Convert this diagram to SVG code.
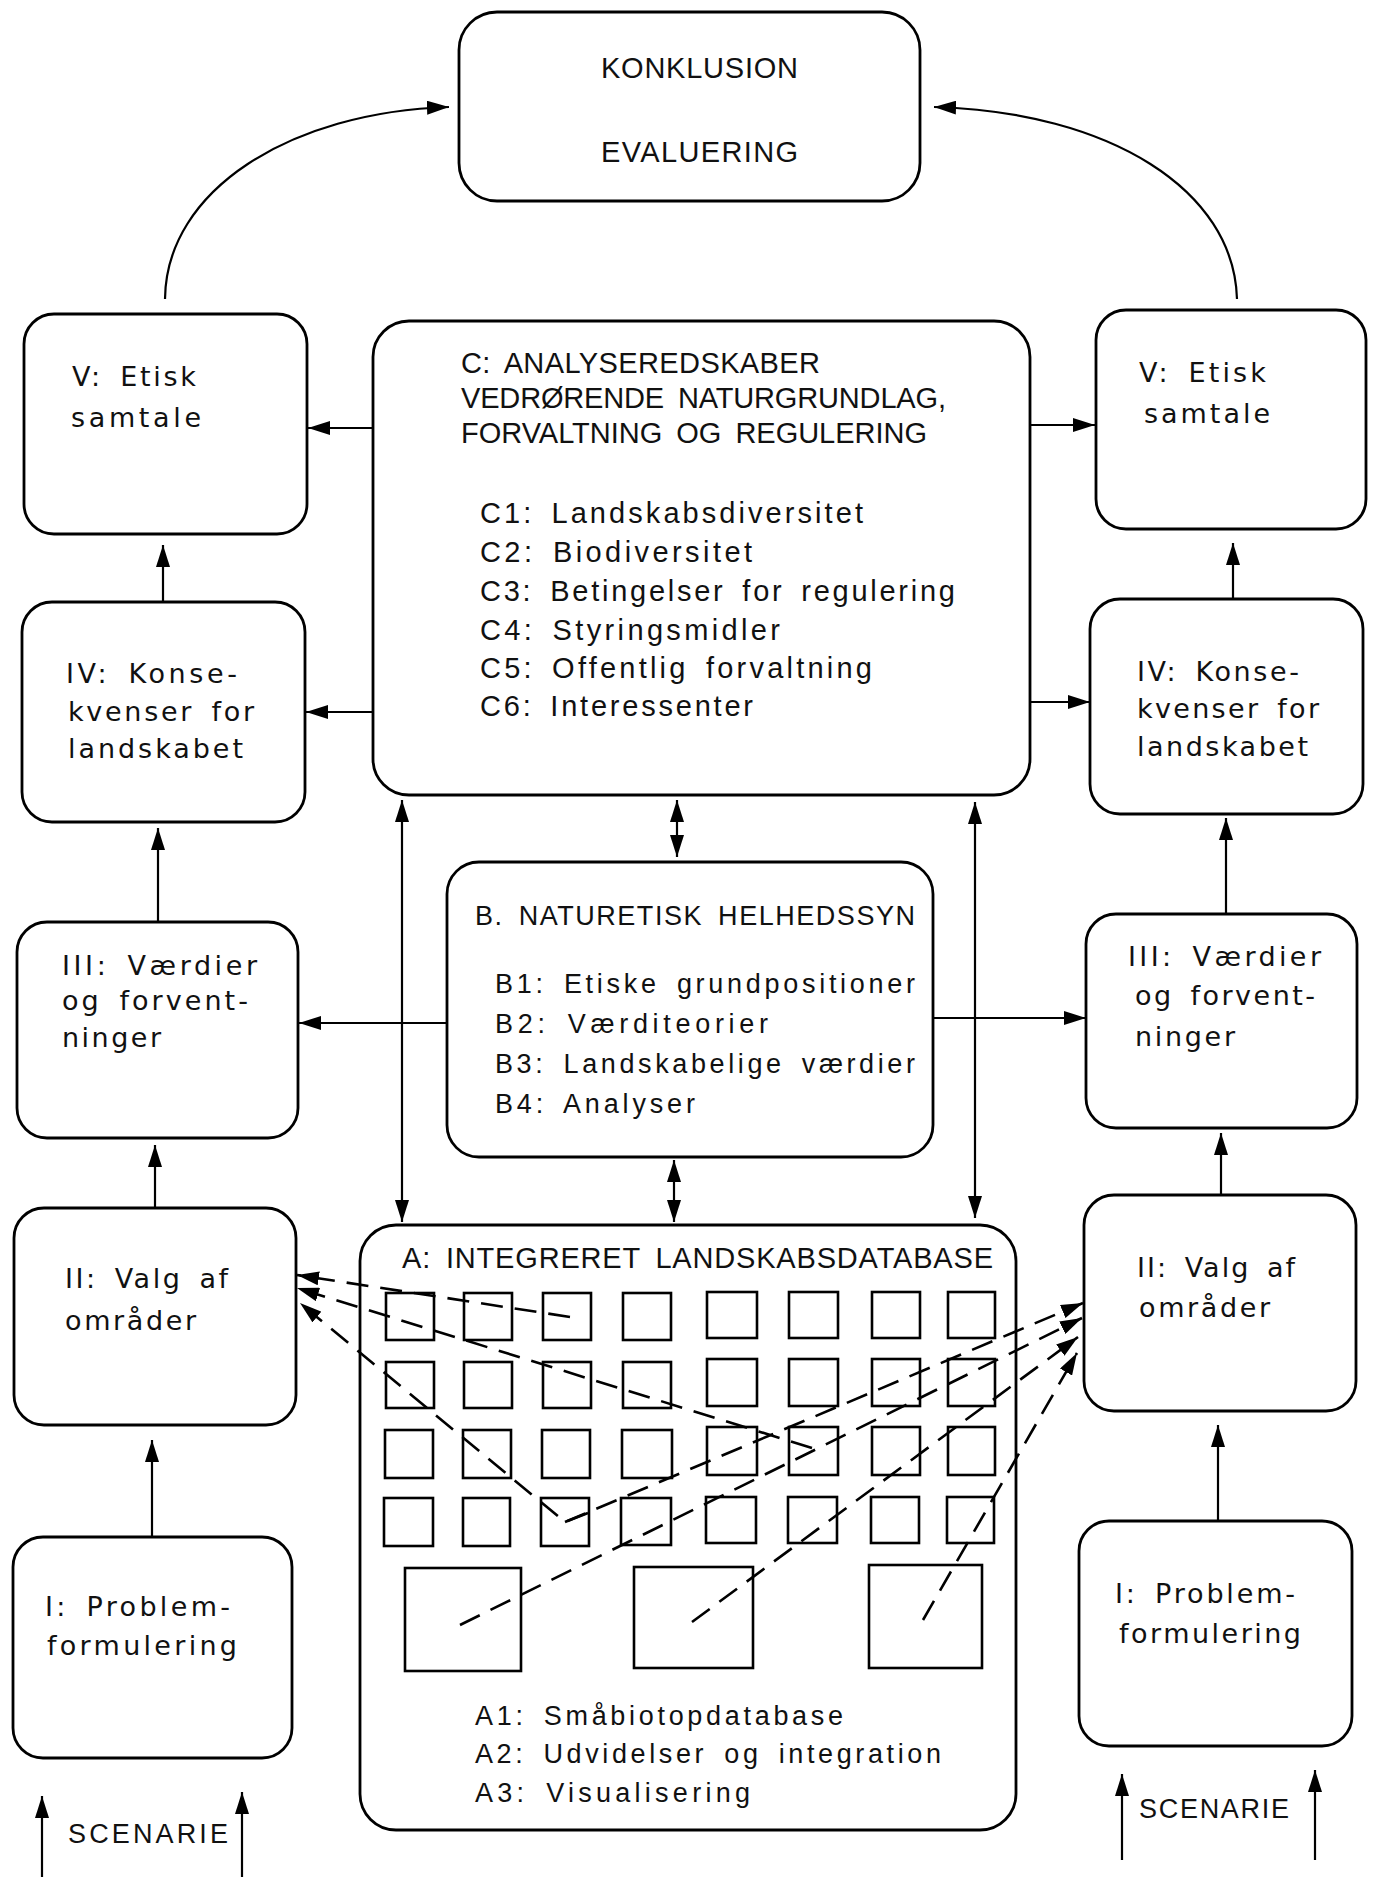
<svg xmlns="http://www.w3.org/2000/svg" width="1376" height="1877" viewBox="0 0 1376 1877">
<style>
.box{fill:none;stroke:#000;stroke-width:2.8}
.sq{fill:none;stroke:#000;stroke-width:2.6}
.ln{fill:none;stroke:#000;stroke-width:2.2}
.dash{fill:none;stroke:#000;stroke-width:2.6;stroke-dasharray:22 12}
.s{font-family:"DejaVu Sans","Liberation Sans",sans-serif;font-size:27px;fill:#111;word-spacing:6px}
.c{font-family:"Liberation Sans",Arial,sans-serif;font-size:29px;fill:#111;word-spacing:6px}
.b{font-family:"Liberation Sans",Arial,sans-serif;font-size:27px;fill:#111;word-spacing:6px}
</style>
<defs>
<marker id="ah" markerUnits="userSpaceOnUse" markerWidth="24" markerHeight="14" refX="22" refY="7" orient="auto-start-reverse">
<path d="M0,0 L22,7 L0,14 z" fill="#000"/>
</marker>
</defs>
<rect width="1376" height="1877" fill="#fff"/>

<g id="konklusion">
<rect class="box" x="459" y="12" width="461" height="189" rx="38"/>
<text class="c" x="601" y="78" textLength="197" lengthAdjust="spacing">KONKLUSION</text>
<text class="c" x="601" y="162" textLength="197" lengthAdjust="spacing">EVALUERING</text>
</g>

<g id="C">
<rect class="box" x="373" y="321" width="657" height="474" rx="36"/>
<text class="c" x="461" y="373" textLength="359" lengthAdjust="spacing">C: ANALYSEREDSKABER</text>
<text class="c" x="461" y="408" textLength="485" lengthAdjust="spacing">VEDRØRENDE NATURGRUNDLAG,</text>
<text class="c" x="461" y="443" textLength="466" lengthAdjust="spacing">FORVALTNING OG REGULERING</text>
<text class="c" x="480" y="523" textLength="383" lengthAdjust="spacing">C1: Landskabsdiversitet</text>
<text class="c" x="480" y="562" textLength="272" lengthAdjust="spacing">C2: Biodiversitet</text>
<text class="c" x="480" y="601" textLength="475" lengthAdjust="spacing">C3: Betingelser for regulering</text>
<text class="c" x="480" y="640" textLength="300" lengthAdjust="spacing">C4: Styringsmidler</text>
<text class="c" x="480" y="678" textLength="392" lengthAdjust="spacing">C5: Offentlig forvaltning</text>
<text class="c" x="480" y="716" textLength="273" lengthAdjust="spacing">C6: Interessenter</text>
</g>

<g id="B">
<rect class="box" x="447" y="862" width="486" height="295" rx="32"/>
<text class="b" x="475" y="925" textLength="440" lengthAdjust="spacing">B. NATURETISK HELHEDSSYN</text>
<text class="b" x="495" y="993" textLength="420" lengthAdjust="spacing">B1: Etiske grundpositioner</text>
<text class="b" x="495" y="1033" textLength="273" lengthAdjust="spacing">B2: Værditeorier</text>
<text class="b" x="495" y="1073" textLength="420" lengthAdjust="spacing">B3: Landskabelige værdier</text>
<text class="b" x="495" y="1113" textLength="200" lengthAdjust="spacing">B4: Analyser</text>
</g>

<g id="A">
<rect class="box" x="360" y="1225" width="656" height="605" rx="36"/>
<text class="c" x="402" y="1268" textLength="591" lengthAdjust="spacing">A: INTEGRERET LANDSKABSDATABASE</text>
<g id="A-grid">
<rect class="sq" x="386" y="1293" width="48" height="47"/>
<rect class="sq" x="464" y="1293" width="48" height="47"/>
<rect class="sq" x="543" y="1293" width="48" height="47"/>
<rect class="sq" x="623" y="1293" width="48" height="47"/>
<rect class="sq" x="707" y="1292" width="50" height="46"/>
<rect class="sq" x="789" y="1292" width="49" height="46"/>
<rect class="sq" x="872" y="1292" width="48" height="46"/>
<rect class="sq" x="948" y="1292" width="47" height="46"/>
<rect class="sq" x="386" y="1362" width="48" height="46"/>
<rect class="sq" x="464" y="1362" width="48" height="46"/>
<rect class="sq" x="543" y="1362" width="48" height="46"/>
<rect class="sq" x="623" y="1362" width="48" height="46"/>
<rect class="sq" x="707" y="1359" width="50" height="47"/>
<rect class="sq" x="789" y="1359" width="49" height="47"/>
<rect class="sq" x="872" y="1359" width="48" height="47"/>
<rect class="sq" x="948" y="1359" width="47" height="47"/>
<rect class="sq" x="385" y="1430" width="48" height="48"/>
<rect class="sq" x="463" y="1430" width="48" height="48"/>
<rect class="sq" x="542" y="1430" width="48" height="48"/>
<rect class="sq" x="622" y="1430" width="50" height="48"/>
<rect class="sq" x="707" y="1427" width="50" height="48"/>
<rect class="sq" x="789" y="1427" width="49" height="48"/>
<rect class="sq" x="872" y="1427" width="48" height="48"/>
<rect class="sq" x="948" y="1427" width="47" height="48"/>
<rect class="sq" x="384" y="1498" width="49" height="48"/>
<rect class="sq" x="463" y="1498" width="47" height="48"/>
<rect class="sq" x="541" y="1498" width="48" height="48"/>
<rect class="sq" x="621" y="1498" width="50" height="47"/>
<rect class="sq" x="706" y="1497" width="50" height="46"/>
<rect class="sq" x="788" y="1497" width="49" height="46"/>
<rect class="sq" x="871" y="1497" width="48" height="46"/>
<rect class="sq" x="947" y="1497" width="47" height="46"/>
<rect class="sq" x="405" y="1568" width="116" height="103"/>
<rect class="sq" x="634" y="1567" width="119" height="101"/>
<rect class="sq" x="869" y="1565" width="113" height="103"/>
</g>
<text class="b" x="475" y="1725" textLength="368" lengthAdjust="spacing">A1: Småbiotopdatabase</text>
<text class="b" x="475" y="1763" textLength="466" lengthAdjust="spacing">A2: Udvidelser og integration</text>
<text class="b" x="475" y="1802" textLength="275" lengthAdjust="spacing">A3: Visualisering</text>
</g>

<g id="L5">
<rect class="box" x="24" y="314" width="283" height="220" rx="30"/>
<text class="s" x="72" y="386" textLength="124" lengthAdjust="spacing">V: Etisk</text>
<text class="s" x="71" y="427" textLength="130" lengthAdjust="spacing">samtale</text>
</g>
<g id="L4">
<rect class="box" x="22" y="602" width="283" height="220" rx="30"/>
<text class="s" x="66" y="683" textLength="171" lengthAdjust="spacing">IV: Konse-</text>
<text class="s" x="68" y="721" textLength="186" lengthAdjust="spacing">kvenser for</text>
<text class="s" x="68" y="758" textLength="175" lengthAdjust="spacing">landskabet</text>
</g>
<g id="L3">
<rect class="box" x="17" y="922" width="281" height="216" rx="30"/>
<text class="s" x="62" y="975" textLength="195" lengthAdjust="spacing">III: Værdier</text>
<text class="s" x="62" y="1010" textLength="186" lengthAdjust="spacing">og forvent-</text>
<text class="s" x="62" y="1047" textLength="99" lengthAdjust="spacing">ninger</text>
</g>
<g id="L2">
<rect class="box" x="14" y="1208" width="282" height="217" rx="30"/>
<text class="s" x="65" y="1288" textLength="163" lengthAdjust="spacing">II: Valg af</text>
<text class="s" x="65" y="1330" textLength="131" lengthAdjust="spacing">områder</text>
</g>
<g id="L1">
<rect class="box" x="13" y="1537" width="279" height="221" rx="30"/>
<text class="s" x="45" y="1616" textLength="185" lengthAdjust="spacing">I: Problem-</text>
<text class="s" x="47" y="1655" textLength="190" lengthAdjust="spacing">formulering</text>
</g>

<g id="R5">
<rect class="box" x="1096" y="310" width="270" height="219" rx="30"/>
<text class="s" x="1139" y="382" textLength="127" lengthAdjust="spacing">V: Etisk</text>
<text class="s" x="1144" y="423" textLength="126" lengthAdjust="spacing">samtale</text>
</g>
<g id="R4">
<rect class="box" x="1090" y="599" width="273" height="215" rx="30"/>
<text class="s" x="1137" y="681" textLength="162" lengthAdjust="spacing">IV: Konse-</text>
<text class="s" x="1137" y="718" textLength="182" lengthAdjust="spacing">kvenser for</text>
<text class="s" x="1137" y="756" textLength="171" lengthAdjust="spacing">landskabet</text>
</g>
<g id="R3">
<rect class="box" x="1086" y="914" width="271" height="214" rx="30"/>
<text class="s" x="1128" y="966" textLength="193" lengthAdjust="spacing">III: Værdier</text>
<text class="s" x="1135" y="1005" textLength="180" lengthAdjust="spacing">og forvent-</text>
<text class="s" x="1135" y="1046" textLength="100" lengthAdjust="spacing">ninger</text>
</g>
<g id="R2">
<rect class="box" x="1084" y="1195" width="272" height="216" rx="30"/>
<text class="s" x="1137" y="1277" textLength="158" lengthAdjust="spacing">II: Valg af</text>
<text class="s" x="1139" y="1317" textLength="131" lengthAdjust="spacing">områder</text>
</g>
<g id="R1">
<rect class="box" x="1079" y="1521" width="273" height="225" rx="30"/>
<text class="s" x="1115" y="1603" textLength="180" lengthAdjust="spacing">I: Problem-</text>
<text class="s" x="1119" y="1643" textLength="182" lengthAdjust="spacing">formulering</text>
</g>

<g id="scenarie-left">
<text class="b" x="68" y="1843" textLength="160" lengthAdjust="spacing">SCENARIE</text>
</g>
<g id="scenarie-right">
<text class="b" x="1139" y="1818" textLength="150" lengthAdjust="spacing">SCENARIE</text>
</g>

<g id="connectors">
<path class="ln" d="M165,299 C166,190 290,112 449,107" marker-end="url(#ah)"/>
<path class="ln" d="M1237,299 C1234,190 1110,112 934,107" marker-end="url(#ah)"/>
<line class="ln" x1="373" y1="428" x2="308" y2="428" marker-end="url(#ah)"/>
<line class="ln" x1="373" y1="712" x2="306" y2="712" marker-end="url(#ah)"/>
<line class="ln" x1="1030" y1="425" x2="1095" y2="425" marker-end="url(#ah)"/>
<line class="ln" x1="1030" y1="702" x2="1090" y2="702" marker-end="url(#ah)"/>
<line class="ln" x1="447" y1="1023" x2="299" y2="1023" marker-end="url(#ah)"/>
<line class="ln" x1="933" y1="1018" x2="1086" y2="1018" marker-end="url(#ah)"/>
<line class="ln" x1="163" y1="602" x2="163" y2="545" marker-end="url(#ah)"/>
<line class="ln" x1="158" y1="922" x2="158" y2="828" marker-end="url(#ah)"/>
<line class="ln" x1="155" y1="1208" x2="155" y2="1145" marker-end="url(#ah)"/>
<line class="ln" x1="152" y1="1537" x2="152" y2="1440" marker-end="url(#ah)"/>
<line class="ln" x1="1233" y1="599" x2="1233" y2="543" marker-end="url(#ah)"/>
<line class="ln" x1="1226" y1="914" x2="1226" y2="818" marker-end="url(#ah)"/>
<line class="ln" x1="1221" y1="1195" x2="1221" y2="1133" marker-end="url(#ah)"/>
<line class="ln" x1="1218" y1="1521" x2="1218" y2="1425" marker-end="url(#ah)"/>
<line class="ln" x1="402" y1="800" x2="402" y2="1222" marker-start="url(#ah)" marker-end="url(#ah)"/>
<line class="ln" x1="975" y1="802" x2="975" y2="1218" marker-start="url(#ah)" marker-end="url(#ah)"/>
<line class="ln" x1="677" y1="800" x2="677" y2="857" marker-start="url(#ah)" marker-end="url(#ah)"/>
<line class="ln" x1="674" y1="1160" x2="674" y2="1222" marker-start="url(#ah)" marker-end="url(#ah)"/>
<line class="ln" x1="42" y1="1877" x2="42" y2="1796" marker-end="url(#ah)"/>
<line class="ln" x1="242" y1="1877" x2="242" y2="1792" marker-end="url(#ah)"/>
<line class="ln" x1="1122" y1="1860" x2="1122" y2="1774" marker-end="url(#ah)"/>
<line class="ln" x1="1315" y1="1860" x2="1315" y2="1770" marker-end="url(#ah)"/>
<line class="dash" x1="570" y1="1317" x2="297" y2="1275" marker-end="url(#ah)"/>
<line class="dash" x1="812" y1="1448" x2="297" y2="1288" marker-end="url(#ah)"/>
<polyline class="dash" points="588,1513 565,1522 300,1303" marker-end="url(#ah)"/>
<line class="dash" x1="565" y1="1522" x2="1083" y2="1303" marker-end="url(#ah)"/>
<line class="dash" x1="460" y1="1625" x2="1082" y2="1318" marker-end="url(#ah)"/>
<line class="dash" x1="692" y1="1622" x2="1078" y2="1337" marker-end="url(#ah)"/>
<line class="dash" x1="923" y1="1620" x2="1077" y2="1353" marker-end="url(#ah)"/>
</g>
</svg>
